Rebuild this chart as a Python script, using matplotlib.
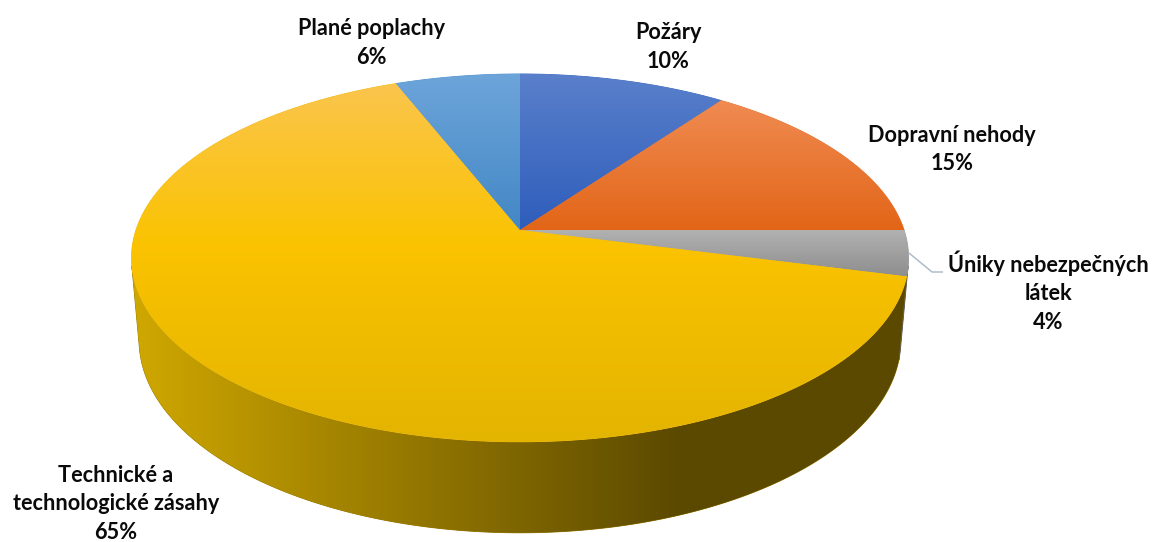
import numpy as np
import matplotlib
matplotlib.use("Agg")
import matplotlib.pyplot as plt
from matplotlib.patches import Polygon
from matplotlib.colors import to_rgb

# ---------------- data ----------------
categories = ["Požáry", "Dopravní nehody", "Úniky nebezpečných látek",
              "Technické a technologické zásahy", "Plané poplachy"]
values = [10, 15, 4, 65, 6]
label_lines = [["Požáry"], ["Dopravní nehody"], ["Úniky nebezpečných", "látek"],
               ["Technické a", "technologické zásahy"], ["Plané poplachy"]]

# ---------------- style ----------------
top_colors = [
    ["#5A80CB", "#2E5DBB"],
    ["#F08B52", "#E26517"],
    ["#B2B2B2", "#8E8E8E"],
    ["#FAC54E", "#FBC300", "#E3B400"],
    ["#6DA5DA", "#4387C5"],
]
side_colors = [
    ["#23458C", "#23458C"],
    ["#A64A10", "#A64A10"],
    ["#6A6A6A", "#5E5E5E"],
    ["#D0A800", "#5B4900"],
    ["#2F6597", "#2F6597"],
]
side_grad_x = [130, 680]

# label anchor (center x, baseline of first line), line spacing
label_pos = [(668, 39), (952, 142), (1048, 272), (116, 482), (371, 35)]
line_gap = 28.5

# camera / projection parameters
CX, CY = 520.0, 230.0
FOC = 2239.0
DIST = 5.83
ELEV = np.radians(27.9)
HGT = 0.245
S, C = np.sin(ELEV), np.cos(ELEV)


def proj(x, y, z):
    yp = y * S + z * C
    d = DIST + y * C - z * S
    return CX + FOC * x / d, CY - FOC * yp / d


fig = plt.figure(figsize=(11.52, 5.42), dpi=100)
ax = fig.add_axes([0, 0, 1, 1])
ax.axis("off")


def grad_fill(poly_xy, colors, vertical=True, xstops=None, z=1):
    poly_xy = np.asarray(poly_xy)
    cols = np.array([to_rgb(c) for c in colors])
    mean = cols.mean(axis=0)
    base = Polygon(poly_xy, closed=True, facecolor=mean, edgecolor=mean,
                   lw=0.6, zorder=z, antialiased=True)
    ax.add_patch(base)
    x0, x1 = poly_xy[:, 0].min(), poly_xy[:, 0].max()
    y0, y1 = poly_xy[:, 1].min(), poly_xy[:, 1].max()
    n = 256
    if vertical:
        t = np.linspace(0, 1, n)
        st = np.array([0, 0.45, 1]) if len(cols) == 3 else np.array([0, 1])
        arr = np.stack([np.interp(t, st, cols[:, k]) for k in range(3)], axis=-1)
        img = arr[:, None, :].repeat(2, axis=1)
    else:
        xs = np.linspace(x0, x1, n)
        arr = np.stack([np.interp(xs, xstops, cols[:, k]) for k in range(3)], axis=-1)
        img = arr[None, :, :].repeat(2, axis=0)
    im = ax.imshow(img, extent=(x0, x1, y1, y0), origin="upper", aspect="auto",
                   interpolation="bilinear", zorder=z + 0.5)
    clip = Polygon(poly_xy, closed=True, transform=ax.transData)
    im.set_clip_path(clip)


fractions = np.array(values, dtype=float) / np.sum(values)
bounds = np.concatenate([[0], np.cumsum(fractions)]) * 2 * np.pi

# visible wall range
tv0 = np.arccos(-1.0 / (DIST * C))
tv1 = 2 * np.pi - tv0

# side walls
for i in range(len(values)):
    a0, a1 = max(bounds[i], tv0), min(bounds[i + 1], tv1)
    if a1 <= a0:
        continue
    th = np.linspace(a0, a1, 200)
    xt, yt = proj(np.sin(th), np.cos(th), 0.0)
    xb, yb = proj(np.sin(th), np.cos(th), -HGT)
    poly = np.column_stack([np.concatenate([xt, xb[::-1]]),
                            np.concatenate([yt, yb[::-1]])])
    if side_colors[i][0] == side_colors[i][1]:
        ax.add_patch(Polygon(poly, closed=True, facecolor=side_colors[i][0],
                             edgecolor=side_colors[i][0], lw=0.5, zorder=1))
    else:
        grad_fill(poly, side_colors[i], vertical=False, xstops=side_grad_x, z=1)

# top slices
for i in range(len(values)):
    th = np.linspace(bounds[i], bounds[i + 1], 300)
    xs, ys = proj(np.sin(th), np.cos(th), 0.0)
    cx, cy = proj(0.0, 0.0, 0.0)
    poly = np.column_stack([np.concatenate([[cx], xs]), np.concatenate([[cy], ys])])
    grad_fill(poly, top_colors[i], vertical=True, z=3)

# leader line for the small slice
ax.plot([909, 932, 943], [253, 272, 272], color="#A8B6C8", lw=1.0, zorder=5,
        solid_capstyle="butt")

# labels
for i, (lx, ly) in enumerate(label_pos):
    lines = label_lines[i] + [f"{round(fractions[i] * 100):.0f}%"]
    for k, txt in enumerate(lines):
        ax.text(lx, ly + k * line_gap, txt, ha="center", va="baseline",
                fontfamily="Lato", fontweight="bold", fontsize=15.6,
                color="#0A0A0A", zorder=6)

ax.set_xlim(0, 1152)
ax.set_ylim(542, 0)
fig.savefig("out.png", dpi=100, facecolor="white")
